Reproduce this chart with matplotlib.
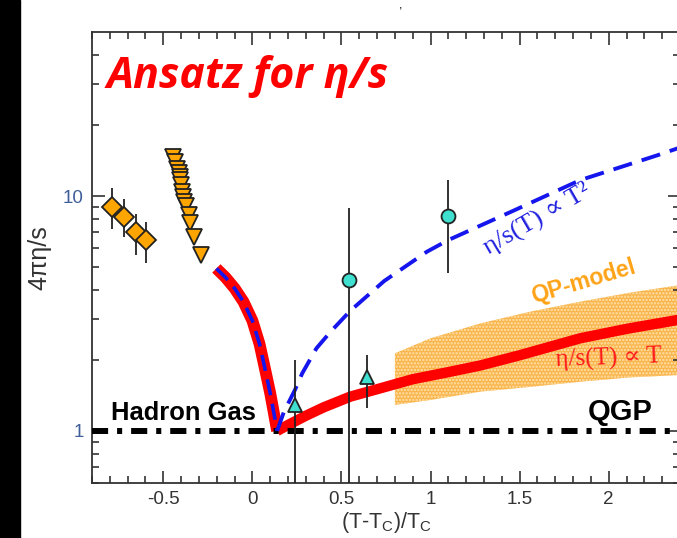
import matplotlib.pyplot as plt
from matplotlib.patches import Rectangle
from matplotlib.ticker import FixedLocator, MultipleLocator, NullFormatter

# hadron gas data (orange diamonds with errors)
dia_x = [-0.787, -0.72, -0.652, -0.596]
dia_y = [9.0, 8.16, 7.05, 6.5]
dia_lo = [7.24, 6.71, 5.61, 5.17]
dia_hi = [10.8, 9.68, 8.38, 7.78]

# orange down triangles
tri_x = [-0.446, -0.433, -0.423, -0.414, -0.408, -0.404, -0.401, -0.395,
         -0.389, -0.382, -0.371, -0.358, -0.348, -0.326, -0.287]
tri_y = [14.7, 14.0, 13.1, 12.5, 12.1, 11.7, 11.1, 10.4,
         9.93, 9.46, 9.06, 8.30, 7.65, 6.71, 5.61]

# cyan circles
circ_x = [0.545, 1.096]
circ_y = [4.39, 8.22]
circ_lo = [0.3, 4.69]
circ_hi = [8.89, 11.7]

# cyan up triangles
up_x = [0.242, 0.644]
up_y = [1.29, 1.70]
up_lo = [0.3, 1.25]
up_hi = [2.0, 2.11]

# hadron side ansatz
hg_x = [-0.202, -0.15, -0.10, -0.05, 0.0, 0.04, 0.07, 0.10, 0.12, 0.139]
hg_y = [4.92, 4.5, 4.05, 3.55, 2.95, 2.35, 1.85, 1.45, 1.2, 1.0]

# eta/s ~ T
lin_x = [0.139, 0.2, 0.3, 0.4, 0.55, 0.72, 0.9, 1.1, 1.28, 1.5, 1.84, 2.1, 2.4]
lin_y = [1.0, 1.06, 1.16, 1.26, 1.40, 1.52, 1.66, 1.78, 1.90, 2.10, 2.48, 2.72, 2.98]

# eta/s ~ T^2
sq_x = [0.139, 0.176, 0.24, 0.28, 0.36, 0.44, 0.55, 0.74, 0.98, 1.1, 1.47, 1.84, 2.27, 2.4]
sq_y = [1.0, 1.2, 1.5, 1.76, 2.25, 2.65, 3.25, 4.35, 5.8, 6.5, 8.7, 11.7, 14.9, 16.1]

# QP-model band
band_x = [0.8, 1.0, 1.28, 1.56, 1.84, 2.12, 2.4]
band_lo = [1.29, 1.355, 1.47, 1.54, 1.62, 1.69, 1.73]
band_hi = [2.14, 2.48, 2.87, 3.22, 3.55, 3.88, 4.18]

plt.rcParams['font.family'] = ['Liberation Sans', 'DejaVu Sans']
plt.rcParams['hatch.linewidth'] = 1.2

fig = plt.figure(figsize=(6.77, 5.38), dpi=100)
ax = fig.add_axes([92 / 677, 55 / 538, 588 / 677, 451 / 538])
fig.patches.append(Rectangle((0, 0), 20 / 677, 1, transform=fig.transFigure,
                             color='black', zorder=10))
fig.text(401 / 677, 1.0, ',', fontsize=9, ha='center', va='top')

ax.fill_between(band_x, band_lo, band_hi, facecolor='#F9B347', edgecolor='#FFE3B0',
                hatch='.....', linewidth=0, zorder=1)
ax.axhline(1, color='black', lw=4.3, dashes=(2.7, 1.5, 0.85, 1.5), zorder=4)
ax.plot(hg_x, hg_y, color='#FF0000', lw=8.5, solid_capstyle='butt', zorder=3)
ax.plot(lin_x, lin_y, color='#FF0000', lw=7.5, solid_capstyle='butt', zorder=3)
ax.plot(hg_x, hg_y, color='#1515EE', lw=2.6, dashes=(4.5, 2.4), zorder=5)
ax.plot(sq_x, sq_y, color='#1515EE', lw=2.8, dashes=(5.0, 2.6), zorder=5)

ax.errorbar(dia_x, dia_y, yerr=[[y - l for y, l in zip(dia_y, dia_lo)],
                                [h - y for y, h in zip(dia_y, dia_hi)]],
            fmt='D', ms=10.5, mfc='#FFA500', mec='#222222', mew=1.3,
            ecolor='#222222', elinewidth=1.3, capsize=0, zorder=6)
ax.plot(tri_x, tri_y, 'v', ms=12, mfc='#FFA500', mec='#222222', mew=1.3, zorder=6)
ax.errorbar(circ_x, circ_y, yerr=[[y - l for y, l in zip(circ_y, circ_lo)],
                                  [h - y for y, h in zip(circ_y, circ_hi)]],
            fmt='o', ms=10, mfc='#40E0D0', mec='#222222', mew=1.3,
            ecolor='#222222', elinewidth=1.3, capsize=0, zorder=6)
ax.errorbar(up_x, up_y, yerr=[[y - l for y, l in zip(up_y, up_lo)],
                              [h - y for y, h in zip(up_y, up_hi)]],
            fmt='^', ms=10, mfc='#40E0D0', mec='#222222', mew=1.3,
            ecolor='#222222', elinewidth=1.3, capsize=0, zorder=6)

ax.set_xlim(-0.9, 2.4)
ax.set_yscale('log')
ax.set_ylim(0.6, 50)
ax.xaxis.set_major_locator(MultipleLocator(0.5))
ax.xaxis.set_minor_locator(MultipleLocator(0.1))
ax.yaxis.set_major_locator(FixedLocator([1, 10]))
ax.yaxis.set_minor_locator(FixedLocator([0.6, 0.7, 0.8, 0.9, 2, 3, 4, 5, 6, 7, 8, 9, 20, 30, 40]))
ax.yaxis.set_minor_formatter(NullFormatter())
ax.set_xticks([-0.5, 0, 0.5, 1, 1.5, 2])
ax.set_xticklabels(['-0.5', '0', '0.5', '1', '1.5', '2'])
ax.set_yticks([1, 10])
ax.set_yticklabels(['1', '10'])
ax.tick_params(which='both', direction='in', top=True, right=True, color='#333333', width=1.2)
ax.tick_params(which='major', length=9, labelsize=13.5, pad=6)
ax.tick_params(which='minor', length=5)
ax.tick_params(axis='x', labelcolor='#333333')
ax.tick_params(axis='y', labelcolor='#3F5E9A')
for s in ax.spines.values():
    s.set_color('#333333')
    s.set_linewidth(1.3)

ax.set_xlabel(r'(T-T$_\mathregular{C}$)/T$_\mathregular{C}$', fontsize=15.5, color='#333333', labelpad=1)
ax.set_ylabel('4πη/s', fontsize=18, color='#333333', labelpad=8)

ax.text(0.0255, 0.876, 'Ansatz for η/s', transform=ax.transAxes, color='#FF0000',
        fontsize=31, fontweight='bold', fontstyle='italic', family=['Open Sans', 'DejaVu Sans'],
        ha='left', va='baseline')
ax.text(-0.794, 1.114, 'Hadron Gas', fontsize=18.4, fontweight='bold', ha='left', va='baseline', zorder=7)
ax.text(1.884, 1.114, 'QGP', fontsize=21, fontweight='bold', ha='left', va='baseline', zorder=7)
ax.text(1.86, 4.3, 'QP-model', fontsize=16.5, fontweight='bold', color='#FFA318',
        rotation=16.5, ha='center', va='center', rotation_mode='anchor')
ax.text(1.60, 8.0, 'η/s(T) ∝ T²', fontsize=19, color='#2020E0', rotation=30,
        family=['Liberation Serif', 'DejaVu Serif'], ha='center', va='center', rotation_mode='anchor')
ax.text(2.0, 2.04, 'η/s(T) ∝ T', fontsize=18, color='#FF1A1A', rotation=2,
        family=['Liberation Serif', 'DejaVu Serif'], ha='center', va='center', rotation_mode='anchor',
        zorder=7)

fig.savefig('out.png', dpi=100)
